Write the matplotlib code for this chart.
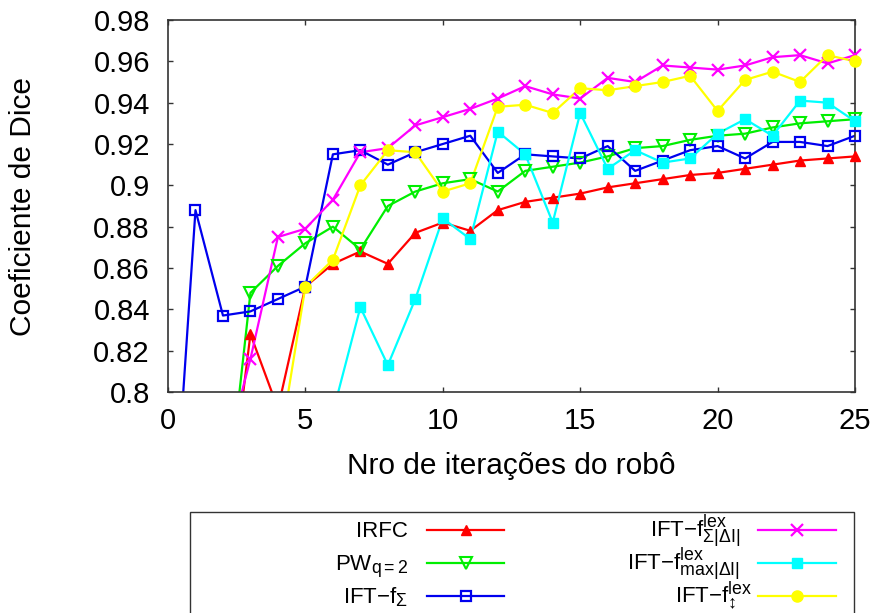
import numpy as np
import matplotlib
matplotlib.use("Agg")
import matplotlib.pyplot as plt
import matplotlib._mathtext as _mt
from matplotlib.lines import Line2D
from matplotlib.patches import Rectangle
from matplotlib.ticker import FuncFormatter

_mt.SHRINK_FACTOR = 0.8

plt.rcParams['font.family'] = ['Liberation Sans', 'DejaVu Sans']
plt.rcParams['mathtext.fontset'] = 'custom'
plt.rcParams['mathtext.rm'] = 'Liberation Sans'
plt.rcParams['mathtext.it'] = 'Liberation Sans'
plt.rcParams['mathtext.sf'] = 'Liberation Sans'
plt.rcParams['mathtext.bf'] = 'Liberation Sans:bold'

nan = np.nan
iterations = list(range(0, 26))

irfc = [nan, nan, 0.720, 0.828, 0.792, 0.851, 0.862, 0.868, 0.862, 0.877, 0.882,
        0.878, 0.888, 0.892, 0.894, 0.896, 0.899, 0.901, 0.903, 0.905, 0.906,
        0.908, 0.910, 0.912, 0.913, 0.914]
pw = [nan, nan, 0.728, 0.848, 0.861, 0.872, 0.880, 0.869, 0.890, 0.897, 0.901,
      0.903, 0.897, 0.907, 0.909, 0.911, 0.914, 0.918, 0.919, 0.922, 0.924,
      0.925, 0.928, 0.930, 0.931, 0.932]
ift_sum = [0.690, 0.888, 0.837, 0.839, 0.845, 0.851, 0.915, 0.917, 0.910, 0.916,
           0.920, 0.924, 0.906, 0.915, 0.914, 0.913, 0.919, 0.907, 0.912, 0.917,
           0.919, 0.913, 0.921, 0.921, 0.919, 0.924]
ift_sum_lex = [nan, nan, 0.765, 0.816, 0.875, 0.879, 0.893, 0.916, 0.918, 0.929,
               0.933, 0.937, 0.942, 0.948, 0.944, 0.942, 0.952, 0.950, 0.958,
               0.957, 0.956, 0.958, 0.962, 0.963, 0.959, 0.963]
ift_max_lex = [nan, nan, nan, nan, nan, nan, 0.790, 0.841, 0.813, 0.845, 0.884,
               0.874, 0.926, 0.915, 0.882, 0.935, 0.908, 0.917, 0.911, 0.913,
               0.925, 0.932, 0.924, 0.941, 0.940, 0.931]
ift_ud_lex = [nan, nan, nan, nan, 0.769, 0.851, 0.864, 0.900, 0.917, 0.916, 0.897,
              0.901, 0.938, 0.939, 0.935, 0.947, 0.946, 0.948, 0.950, 0.953,
              0.936, 0.951, 0.955, 0.950, 0.963, 0.960]

labels = ['IRFC', r'PW$_{q{=}2}$', r'IFT−f$_{\Sigma}$',
          r'IFT−f$^{lex}_{\Sigma|\Delta I|}$',
          r'IFT−f$^{lex}_{max|\Delta I|}$',
          r'IFT−f$^{lex}_{↕}$']
series = [irfc, pw, ift_sum, ift_sum_lex, ift_max_lex, ift_ud_lex]
colors = ['#ff0000', '#00ee00', '#0000ee', '#ff00ff', '#00ffff', '#ffff00']
styles = [
    dict(marker='^', ms=6.5, mfc='#ff0000', mec='#ff0000', mew=1.0),
    dict(marker='v', ms=8, mfc='none', mec='#00ee00', mew=1.5),
    dict(marker='s', ms=7.5, mfc='none', mec='#0000ee', mew=1.6),
    dict(marker='x', ms=8, mfc='none', mec='#ff00ff', mew=1.6),
    dict(marker='s', ms=7.5, mfc='#00ffff', mec='#00ffff', mew=1.0),
    dict(marker='o', ms=8, mfc='#ffff00', mec='#ffff00', mew=1.0),
]

W, H = 877, 613
fig = plt.figure(figsize=(W / 100, H / 100), dpi=100)
ax = fig.add_axes([168 / W, 1 - 392 / H, (855 - 168) / W, (392 - 20) / H])

ymin, ymax = 0.8, 0.98
x = np.array(iterations, dtype=float)
for vals, c, st in zip(series, colors, styles):
    y = np.array(vals, dtype=float)
    ax.plot(x, y, color=c, lw=1.6, zorder=2)
    ym = np.where((y >= ymin - 1e-9) & (y <= ymax), y, np.nan)
    ax.plot(x, ym, ls='none', clip_on=False, zorder=3, **st)

ax.set_xlim(0, 25)
ax.set_ylim(ymin, ymax)
ax.set_xticks([0, 5, 10, 15, 20, 25])
ax.set_yticks(np.arange(0.80, 0.981, 0.02))
ax.yaxis.set_major_formatter(FuncFormatter(lambda v, p: '%g' % round(v, 2)))
ax.tick_params(direction='in', length=3.6, width=1.0, top=True, right=True,
               labelsize=21, color='#333333')
ax.tick_params(axis='x', pad=10.5)
ax.tick_params(axis='y', pad=13)
for s in ax.spines.values():
    s.set_linewidth(1.2)
    s.set_color('#333333')

ax.set_xlabel('Nro de iterações do robô', fontsize=21.5)
ax.set_ylabel('Coeficiente de Dice', fontsize=21.5)
ax.xaxis.set_label_coords(0.5, -0.162)
ax.yaxis.set_label_coords(-0.19, 0.5)

# legend box (extends past the bottom edge, as in the reference)
def fx(px):
    return px / W

def fy(py):
    return 1 - py / H

fig.add_artist(Rectangle((fx(190), fy(650)), fx(854) - fx(190), fy(512) - fy(650),
                         transform=fig.transFigure, fill=False, lw=1.0,
                         edgecolor='#333333', clip_on=False))

rows = [530, 563, 596]
cols = [(408, 427, 504), (740, 758, 836)]
for i, (lab, c, st) in enumerate(zip(labels, colors, styles)):
    col = cols[i // 3]
    ry = rows[i % 3]
    tx = col[0]
    if i == 5:
        tx = 752
    fig.text(fx(tx), fy(ry + 7), lab, ha='right', va='baseline', fontsize=16)
    fig.add_artist(Line2D([fx(col[1]), fx(col[2])], [fy(ry), fy(ry)],
                          transform=fig.transFigure, color=c, lw=1.6))
    fig.add_artist(Line2D([fx((col[1] + col[2]) / 2)], [fy(ry)],
                          transform=fig.transFigure, ls='none', **st))

fig.savefig('out.png', dpi=100)
